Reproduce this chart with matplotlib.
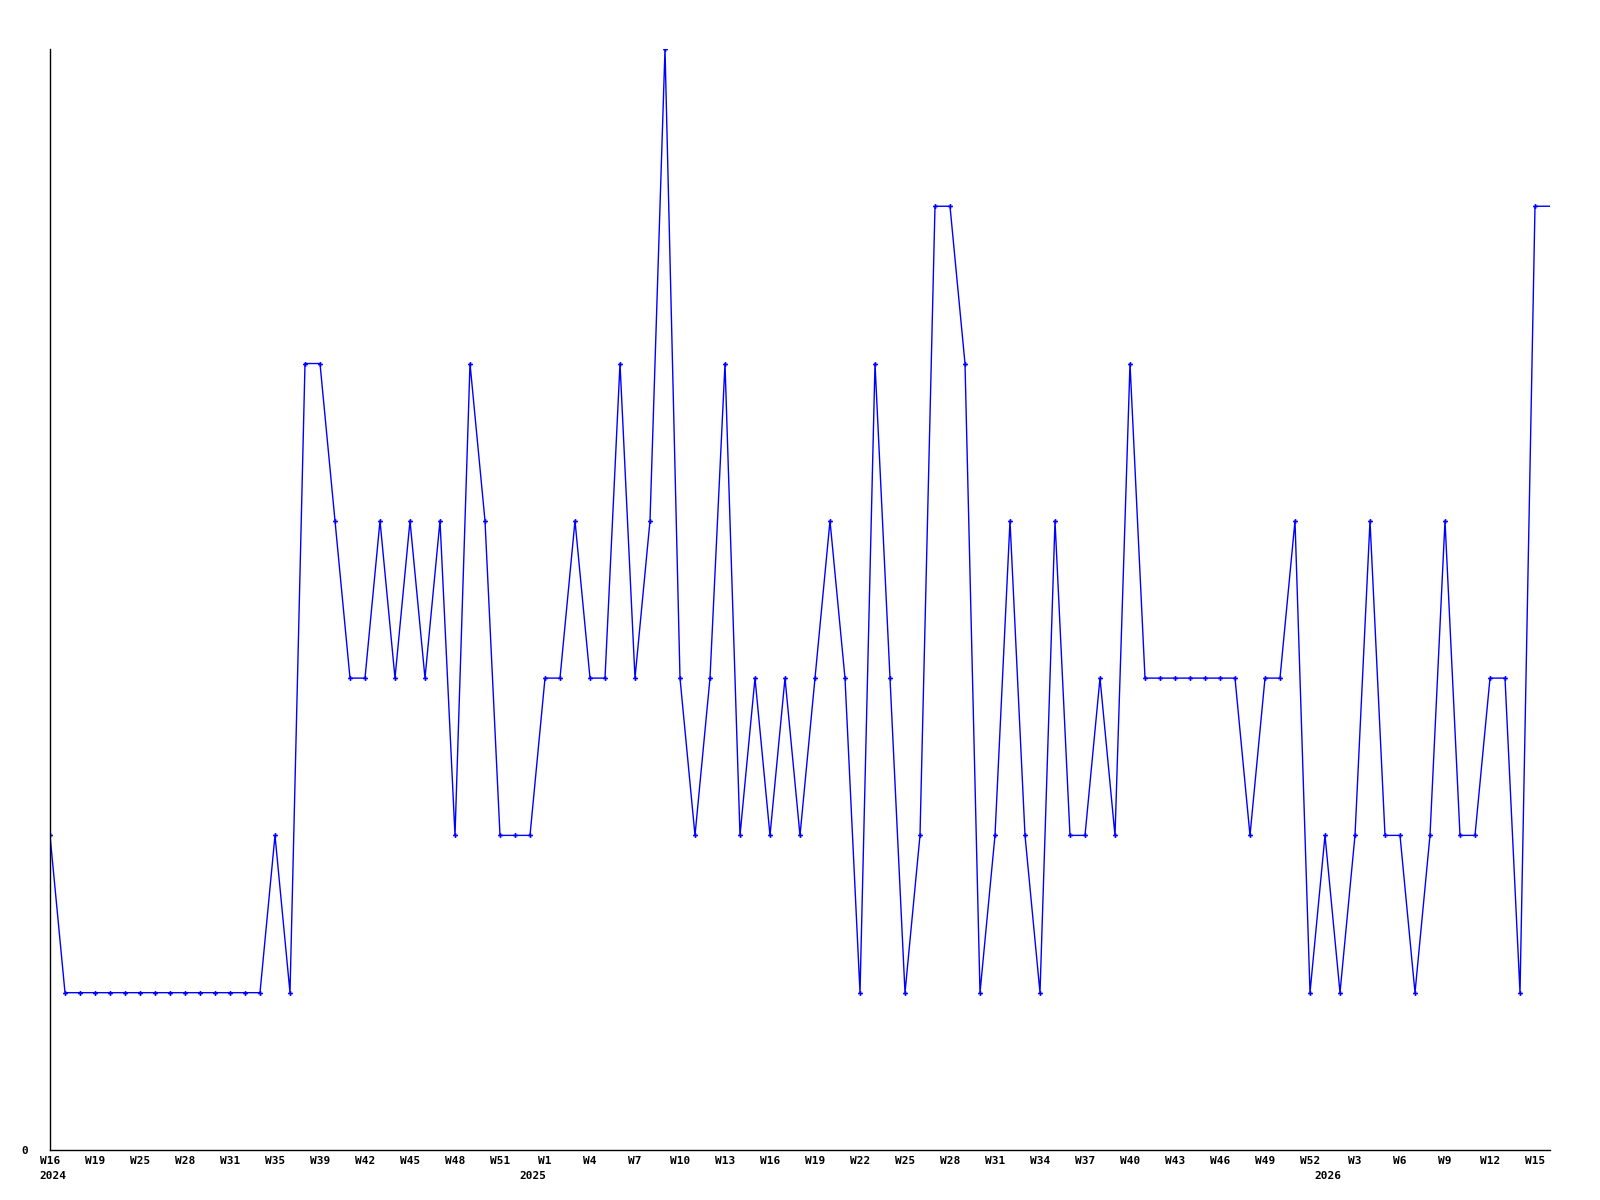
import matplotlib
matplotlib.use("Agg")
from matplotlib import pyplot as plt
from matplotlib import transforms

# weekly values, one per week starting W16 2024
counts = [2, 1, 1, 1, 1, 1, 1, 1, 1, 1, 1, 1, 1, 1, 1, 2, 1, 5, 5, 4,
          3, 3, 4, 3, 4, 3, 4, 2, 5, 4, 2, 2, 2, 3, 3, 4, 3, 3, 5, 3,
          4, 7, 3, 2, 3, 5, 2, 3, 2, 3, 2, 3, 4, 3, 1, 5, 3, 1, 2, 6,
          6, 5, 1, 2, 4, 2, 1, 4, 2, 2, 3, 2, 5, 3, 3, 3, 3, 3, 3, 3,
          2, 3, 3, 4, 1, 2, 1, 2, 4, 2, 2, 1, 2, 4, 2, 2, 3, 3, 1, 6]

week_labels = ["W16", "W19", "W25", "W28", "W31", "W35", "W39", "W42", "W45", "W48",
               "W51", "W1", "W4", "W7", "W10", "W13", "W16", "W19", "W22", "W25",
               "W28", "W31", "W34", "W37", "W40", "W43", "W46", "W49", "W52", "W3",
               "W6", "W9", "W12", "W15"]
year_labels = ["2024", "2025", "2026"]
year_pos = [0.2, 32.2, 85.2]

x = list(range(len(counts)))

fig = plt.figure(figsize=(16, 12), dpi=100)
ax = fig.add_axes([0.03125, 0.0417, 0.9375, 0.9175])

# line runs on to the right edge for the current week
ax.plot(x + [len(counts)], counts + [counts[-1]], color="#0000ff", lw=1.0)
ax.plot(x, counts, ls="none", marker="P", ms=3.5, color="#0000ff", mew=0)

ax.set_xlim(0, len(counts))
ax.set_ylim(0, 7)
for s in ["top", "right"]:
    ax.spines[s].set_visible(False)
ax.spines["left"].set_linewidth(1)
ax.spines["bottom"].set_linewidth(1)

ax.set_yticks([0])
ax.set_yticklabels(["0"], family="DejaVu Sans Mono", fontsize=8, fontweight="bold")
ax.tick_params(axis="y", length=0, pad=16)

ax.set_xticks(range(0, len(counts), 3))
ax.set_xticklabels(week_labels, family="DejaVu Sans Mono", fontsize=8, fontweight="bold")
ax.tick_params(axis="x", length=0, pad=4)

trans = transforms.blended_transform_factory(ax.transData, ax.transAxes)
for yl, xp in zip(year_labels, year_pos):
    ax.text(xp, -0.0235, yl, transform=trans, ha="center", va="center",
            family="DejaVu Sans Mono", fontsize=8, fontweight="bold")

fig.savefig("out.png", dpi=100, facecolor="white")
